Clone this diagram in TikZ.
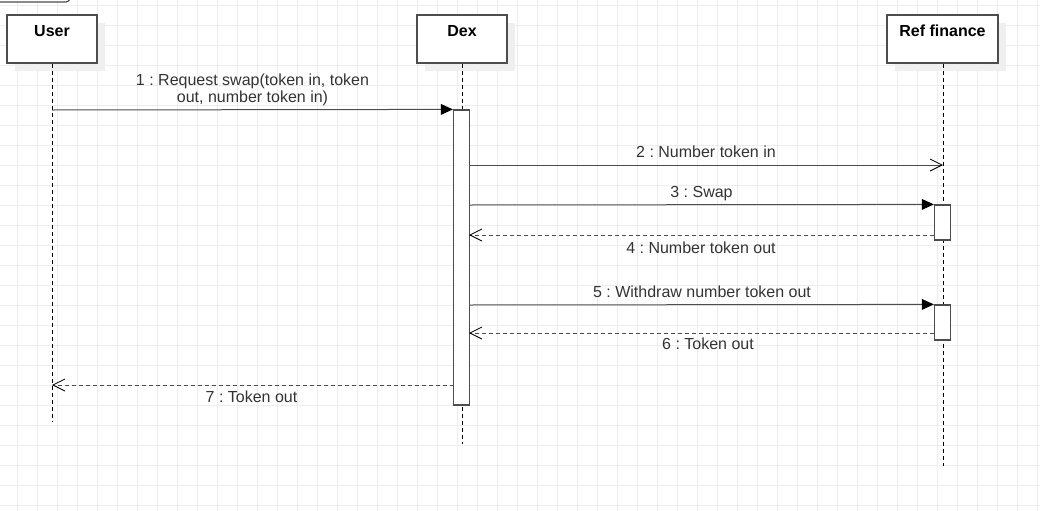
\documentclass[tikz,border=0pt]{standalone}
\usepackage{fontspec}
\setmainfont{Liberation Sans}
\usetikzlibrary{arrows.meta,shadows}
\definecolor{gridc}{HTML}{EDEDED}
\definecolor{linec}{HTML}{4D4D4D}
\definecolor{txtc}{HTML}{333333}
\definecolor{shadowc}{HTML}{EFEFEF}
\frenchspacing
\begin{document}
\begin{tikzpicture}[x=0.75pt,y=-0.75pt,
  gridline/.style={draw=gridc, line width=0.75pt},
  head/.style={draw=linec, line width=0.9pt, fill=white, inner sep=0pt,
    minimum height=36pt,
    drop shadow={shadow xshift=6pt, shadow yshift=-6pt, fill=shadowc, opacity=1}},
  headtxt/.style={anchor=base, inner sep=0pt, font=\fontsize{12}{14}\selectfont\bfseries, text=black},
  life/.style={draw=black, line width=0.75pt, dash pattern=on 3pt off 2.25pt},
  act/.style={draw=linec, line width=0.9pt, fill=white, inner sep=0pt, minimum width=12pt},
  msg/.style={draw=linec, line width=0.75pt, -{Triangle[length=9pt,width=8pt,fill=black,color=black]}},
  async/.style={draw=linec, line width=0.75pt, -{Straight Barb[length=9pt,width=9pt,color=black,line width=0.6pt]}},
  ret/.style={draw=linec, line width=0.75pt, dash pattern=on 3pt off 2.25pt, -{Straight Barb[length=9pt,width=9pt,color=black,line width=0.6pt]}},
  lbl/.style={anchor=base, inner sep=0pt, font=\fontsize{12}{12.75}\selectfont\frenchspacing, text=txtc, align=center}
]
\useasboundingbox (0,0) rectangle (1040,511);
% grid
\foreach \x in {17,37,...,1037} \draw[gridline] (\x,0) -- (\x,511);
\foreach \y in {5,25,...,505} \draw[gridline] (0,\y) -- (1040,\y);
% partial shape at top left
\draw[draw=linec, line width=0.9pt, fill=white, rounded corners=3pt] (-10,-20) rectangle (70,2);

% heads
\node[head, minimum width=67.5pt] (user) at (52,39) {};
\node[head, minimum width=67.5pt] (dex) at (462,39) {};
\node[head, minimum width=83.25pt] (ref) at (942.5,39) {};
\node[headtxt] (usert) at (52,36) {User};
\node[headtxt] (dext) at (462,36) {Dex};
\node[headtxt] (reft) at (942.5,36) {Ref finance};

% lifeline ends
\coordinate (userend) at (52,421);
\coordinate (dexend) at (462,444);
\coordinate (refend) at (943,466);
\draw[life] (user.south -| userend) -- (userend);
\draw[life] (dex.south -| dexend) -- (dexend);
\draw[life] (ref.south -| refend) -- (refend);

% activations
\node[act, minimum height=221.25pt] (dexact) at (461.5,257.5) {};
\node[act, minimum height=26.25pt] (refact1) at (942.5,222.5) {};
\node[act, minimum height=26.25pt] (refact2) at (942.5,322.5) {};

% message anchor points
\coordinate (u1) at (52,110);
\coordinate (d2) at (469,165);
\coordinate (r2) at (943,165);
\coordinate (d3) at (469,205);
\coordinate (d4) at (469,235);
\coordinate (r4) at (934,235);
\coordinate (d5) at (469,305);
\coordinate (d6) at (469,333);
\coordinate (r6) at (934,333);
\coordinate (d7) at (454,385);
\coordinate (u7) at (52,385);

% messages
\draw[msg] (u1) -- (dexact.north west);
\draw[async] (d2) -- (r2);
\draw[msg] (d3) -- (refact1.north west);
\draw[ret] (r4) -- (d4);
\draw[msg] (d5) -- (refact2.north west);
\draw[ret] (r6) -- (d6);
\draw[ret] (d7) -- (u7);

% labels
\node[lbl] (l1) at (252.5,102) {1 : Request swap(token in, token\\out, number token in)};
\node[lbl] (l2) at (706,157) {2 : Number token in};
\node[lbl] (l3) at (701.5,197) {3 : Swap};
\node[lbl] (l4) at (701,253) {4 : Number token out};
\node[lbl] (l5) at (702,297) {5 : Withdraw number token out};
\node[lbl] (l6) at (708,349) {6 : Token out};
\node[lbl] (l7) at (251.5,402) {7 : Token out};
\end{tikzpicture}
\end{document}
